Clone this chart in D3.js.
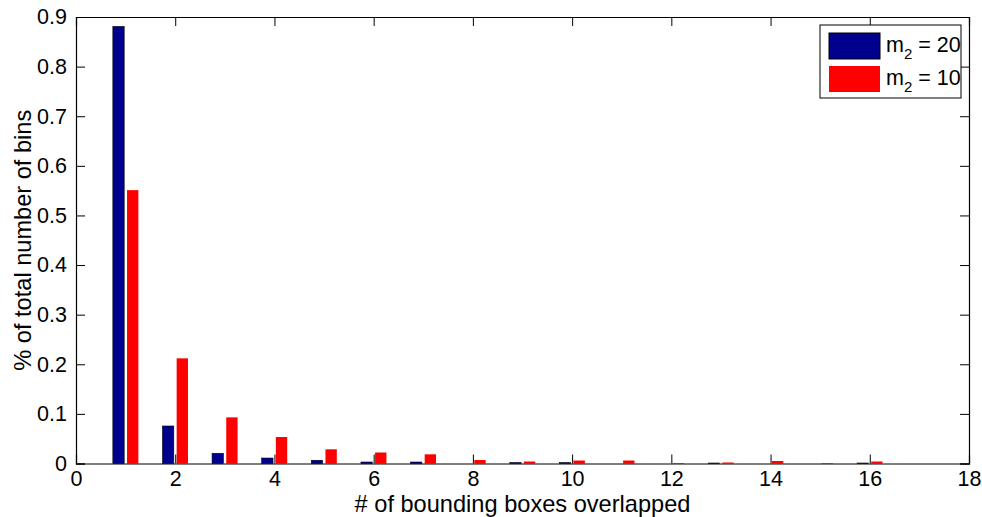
<!DOCTYPE html>
<html>
<head>
<meta charset="utf-8">
<script src="https://cdn.jsdelivr.net/npm/d3@7"></script>
<style>
  body { margin: 0; background: #fff; }
  svg text { font-family: "Liberation Sans", Arial, sans-serif; fill: #000; }
</style>
</head>
<body>
<svg id="chart" width="982" height="517"></svg>
<script>
// overlap counts (x categories)
const overlaps = [1, 2, 3, 4, 5, 6, 7, 8, 9, 10, 11, 12, 13, 14, 15, 16];
// m2 = 20
const m2_20 = [0.881, 0.0756, 0.0206, 0.011, 0.0065, 0.003, 0.003, 0, 0.002, 0.002, 0, 0, 0.001, 0, 0, 0.001];
// m2 = 10
const m2_10 = [0.551, 0.212, 0.093, 0.0534, 0.0286, 0.0222, 0.0185, 0.007, 0.004, 0.006, 0.006, 0.001, 0.002, 0.005, 0.001, 0.004];
const seriesNames = ["20", "10"];
const seriesColors = ["#00008f", "#ff0000"];
const xTicks = d3.range(0, 19, 2);
const yTicks = d3.range(0, 0.91, 0.1);

const svg = d3.select("#chart");
const plotL = 76, plotR = 969, plotT = 17, plotB = 463.5;

const x = d3.scaleLinear().domain([0, 18]).range([plotL, plotR]);
const y = d3.scaleLinear().domain([0, 0.9]).range([plotB, plotT]);

// MATLAB grouped bar geometry: group width 0.571, bar width 0.8 of slot
const groupW = 2 / 3.5;
const offsets = [-groupW / 4, groupW / 4];
const barW = groupW / 2 * 0.8;

const series = [m2_20, m2_10];
series.forEach((vals, si) => {
  svg.append("g")
    .selectAll("rect")
    .data(overlaps.map((c, i) => ({ c, v: vals[i] })).filter((d) => d.v > 0))
    .enter()
    .append("rect")
    .attr("x", (d) => x(d.c + offsets[si] - barW / 2))
    .attr("width", x(barW) - x(0))
    .attr("y", (d) => y(d.v))
    .attr("height", (d) => plotB - y(d.v))
    .attr("fill", seriesColors[si])
    .attr("stroke", si === 0 ? "#000" : "none")
    .attr("stroke-width", 0.6);
});

// axes (ticks inward, mirrored on top/right)
const tickLen = 9;
const fmtY = (d) => (d === 0 ? "0" : d3.format(".1f")(d));

const gx = svg.append("g")
  .attr("transform", `translate(0,${plotB})`)
  .call(d3.axisBottom(x).tickValues(xTicks).tickSize(-tickLen).tickPadding(7));
const gy = svg.append("g")
  .attr("transform", `translate(${plotL},0)`)
  .call(d3.axisLeft(y).tickValues(yTicks).tickFormat(fmtY).tickSize(-tickLen).tickPadding(9));
const gt = svg.append("g")
  .attr("transform", `translate(0,${plotT})`)
  .call(d3.axisTop(x).tickValues(xTicks).tickSize(-tickLen).tickFormat(""));
const gr = svg.append("g")
  .attr("transform", `translate(${plotR},0)`)
  .call(d3.axisRight(y).tickValues(yTicks).tickSize(-tickLen).tickFormat(""));

[gx, gy, gt, gr].forEach((g) => {
  g.select(".domain").attr("stroke", "#000").attr("stroke-width", 1.2);
  g.selectAll(".tick line").attr("stroke", "#000").attr("stroke-width", 1);
  g.selectAll(".tick text").style("font-size", "21.5px");
});

svg.append("text")
  .attr("x", (plotL + plotR) / 2)
  .attr("y", 512)
  .attr("text-anchor", "middle")
  .style("font-size", "23.6px")
  .text("# of bounding boxes overlapped");

svg.append("text")
  .attr("transform", `translate(31,${(plotT + plotB) / 2}) rotate(-90)`)
  .attr("text-anchor", "middle")
  .style("font-size", "23.6px")
  .text("% of total number of bins");

// legend
const lg = svg.append("g");
lg.append("rect")
  .attr("x", 820).attr("y", 25).attr("width", 141).attr("height", 73)
  .attr("fill", "#fff").attr("stroke", "#000").attr("stroke-width", 1);
seriesNames.forEach((name, i) => {
  const yy = 33 + i * 33;
  lg.append("rect")
    .attr("x", 829).attr("y", yy).attr("width", 51).attr("height", 26)
    .attr("fill", seriesColors[i])
    .attr("stroke", i === 0 ? "#000" : "none");
  const t = lg.append("text")
    .attr("x", 886).attr("y", yy + 19)
    .style("font-size", "21.5px");
  t.append("tspan").text("m");
  t.append("tspan").attr("dy", 7).style("font-size", "15px").text("2");
  t.append("tspan").attr("dy", -7).text(" = " + name);
});
</script>
</body>
</html>
